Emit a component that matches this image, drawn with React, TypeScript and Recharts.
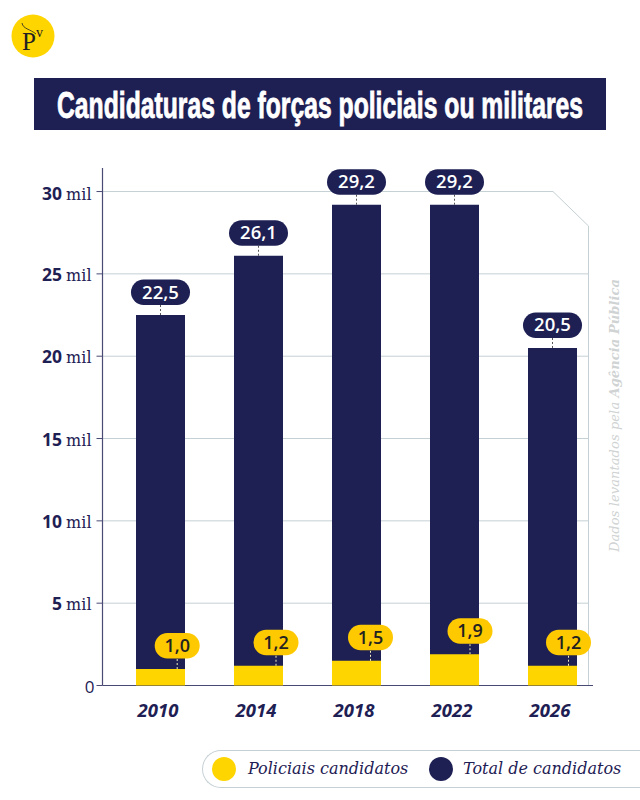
import { BarChart, Bar, XAxis, YAxis, CartesianGrid, Legend, LabelList } from 'recharts';

const years = ['2010', '2014', '2018', '2022', '2026'];
const totalCandidates = [22.5, 26.1, 29.2, 29.2, 20.5];
const policeCandidates = [1.0, 1.2, 1.5, 1.9, 1.2];
const yTicks = [0, 5, 10, 15, 20, 25, 30];

const chartData = years.map((year, i) => ({
  year,
  total: totalCandidates[i],
  police: policeCandidates[i],
}));

// the yellow pills sit off-centre on each bar
const policePillShift = [16.7, 17.5, 14, 15.5, 16];

const NAVY = '#1e2054';
const YELLOW = '#ffd500';
const PILL_YELLOW = '#ffc900';
const GRID = '#c5d0d4';
const SANS = '"Open Sans", sans-serif';
const SERIF = '"DejaVu Serif", serif';

const formatValue = (v: number) => v.toFixed(1).replace('.', ',');

function TotalPill({ x, y, width, value }: any) {
  const cx = x + width / 2;
  return (
    <g>
      <line x1={cx} x2={cx} y1={y} y2={y - 11} stroke="#555" strokeWidth={1} strokeDasharray="2 2" />
      <rect x={cx - 29.5} y={y - 35.5} width={59} height={25.5} rx={12.7} fill={NAVY} />
      <text x={cx} y={y - 16.5} textAnchor="middle" fill="#fff" fontFamily={SANS} fontWeight={600} fontSize={18.5}>
        {formatValue(value)}
      </text>
    </g>
  );
}

function PolicePill({ x, y, width, value, index }: any) {
  const cx = x + width / 2 + policePillShift[index];
  return (
    <g>
      <line x1={cx} x2={cx} y1={y} y2={y - 11} stroke="#f4eec0" strokeWidth={1} strokeDasharray="2 2" />
      <rect x={cx - 22.5} y={y - 36} width={45} height={25.5} rx={12.7} fill={PILL_YELLOW} />
      <text x={cx} y={y - 17} textAnchor="middle" fill="#222" fontFamily={SANS} fontWeight={600} fontSize={18}>
        {formatValue(value)}
      </text>
    </g>
  );
}

function YTick({ x, y, payload }: any) {
  if (payload.value === 0) {
    return (
      <text x={x + 3} y={y + 7} textAnchor="end" fill={NAVY} fontFamily={SANS} fontSize={17}>
        0
      </text>
    );
  }
  return (
    <text x={x} y={y + (payload.value === 30 ? 8.5 : 7)} textAnchor="end" fill={NAVY}>
      <tspan fontFamily={SANS} fontWeight={700} fontSize={17.5}>{payload.value}</tspan>
      <tspan fontFamily={SERIF} fontSize={16} dx={4}>mil</tspan>
    </text>
  );
}

// grid lines stop at the chamfered frame, and the zero line is the darker x axis
function GridLine({ x1, y1 }: any) {
  if (y1 < 180) {
    return <g key="plot-top" />;
  }
  if (y1 > 680) {
    return <line key="base" x1={x1} x2={593} y1={y1} y2={y1} stroke="#4a4b75" strokeWidth={1.2} />;
  }
  if (y1 < 200) {
    return (
      <polyline
        key="frame"
        points={`${x1},${y1} 553,${y1} 588.5,226 588.5,685`}
        fill="none"
        stroke={GRID}
        strokeWidth={1}
      />
    );
  }
  return <line key={y1} x1={x1} x2={588.5} y1={y1} y2={y1} stroke={GRID} strokeWidth={1} />;
}

function LegendPill({ payload }: any) {
  const items = payload || [];
  return (
    <div
      style={{
        width: 438,
        height: 38,
        boxSizing: 'border-box',
        border: `1px solid ${GRID}`,
        borderRight: 'none',
        borderRadius: '19px 0 0 19px',
        background: '#fff',
        position: 'relative',
      }}
    >
      {items.map((item: any, i: number) => (
        <div key={item.value}>
          <span
            style={{
              position: 'absolute',
              left: i === 0 ? 9 : 226,
              top: 6,
              width: 24,
              height: 24,
              borderRadius: 12,
              background: item.color,
            }}
          />
          <span
            style={{
              position: 'absolute',
              left: i === 0 ? 45 : 260,
              top: 8,
              fontFamily: SERIF,
              fontStyle: 'italic',
              fontSize: 16,
              lineHeight: '20px',
              color: NAVY,
              whiteSpace: 'nowrap',
            }}
          >
            {item.value}
          </span>
        </div>
      ))}
    </div>
  );
}

export default function App() {
  return (
    <div style={{ position: 'absolute', left: 0, top: 0, width: 640, height: 800, overflow: 'hidden', background: '#fff' }}>
      <svg width={640} height={800} style={{ position: 'absolute', left: 0, top: 0 }}>
        <circle cx={33} cy={36} r={21.5} fill={YELLOW} />
        <path d="M22 23 C23 29 30 29 36 34" fill="none" stroke="#222" strokeWidth={0.8} />
        <text x={22} y={50} fontFamily='"Liberation Serif", serif' fontSize={25} fill="#222">P</text>
        <text x={36} y={37} fontFamily='"Liberation Serif", serif' fontSize={14} fill="#222">v</text>
        <rect x={34} y={78} width={572} height={52} fill={NAVY} />
        <text
          transform="translate(57 118) scale(1 1.4)"
          fontFamily='"Liberation Sans Narrow", "Liberation Sans", sans-serif'
          fontWeight={700}
          fontSize={26}
          fill="#fff"
          stroke="#fff"
          strokeWidth={0.6}
          textLength={526}
          lengthAdjust="spacingAndGlyphs"
        >
          Candidaturas de forças policiais ou militares
        </text>
        <text
          transform="translate(619 552) rotate(-90)"
          fontFamily={SERIF}
          fontStyle="italic"
          fontSize={13}
          fill="#d0d3d3"
          textLength={273}
        >
          Dados levantados pela <tspan fontWeight={700}>Agência Pública</tspan>
        </text>
      </svg>
      <div style={{ position: 'absolute', left: 0, top: 0 }}>
        <BarChart
          width={640}
          height={800}
          data={chartData}
          margin={{ top: 168, right: 39, bottom: 74.5, left: 0 }}
          barSize={49}
          barGap={-49}
        >
          <CartesianGrid vertical={false} horizontal={GridLine as any} />
          <XAxis
            dataKey="year"
            axisLine={false}
            tickLine={false}
            padding={{ left: 8.5, right: 0 }}
            height={40}
            tickMargin={12}
            tick={{ fill: NAVY, fontFamily: SANS, fontWeight: 700, fontStyle: 'italic', fontSize: 18.5, dx: -2 }}
          />
          <YAxis
            type="number"
            domain={[0, 31.43]}
            ticks={yTicks}
            width={102.5}
            axisLine={{ stroke: '#4a4b75', strokeWidth: 1.2 }}
            tickLine={{ stroke: '#4a4b75' }}
            tickSize={6}
            tickMargin={5}
            tick={YTick as any}
            interval={0}
          />
          <Legend
            layout="horizontal"
            verticalAlign="middle"
            content={LegendPill as any}
            wrapperStyle={{ position: 'absolute', left: 202, top: 749.5, width: 438, height: 38 }}
          />
          <Bar dataKey="total" name="Total de candidatos" fill={NAVY} isAnimationActive={false}>
            <LabelList dataKey="total" content={TotalPill as any} />
          </Bar>
          <Bar dataKey="police" name="Policiais candidatos" fill={YELLOW} isAnimationActive={false}>
            <LabelList dataKey="police" content={PolicePill as any} />
          </Bar>
        </BarChart>
      </div>
    </div>
  );
}
